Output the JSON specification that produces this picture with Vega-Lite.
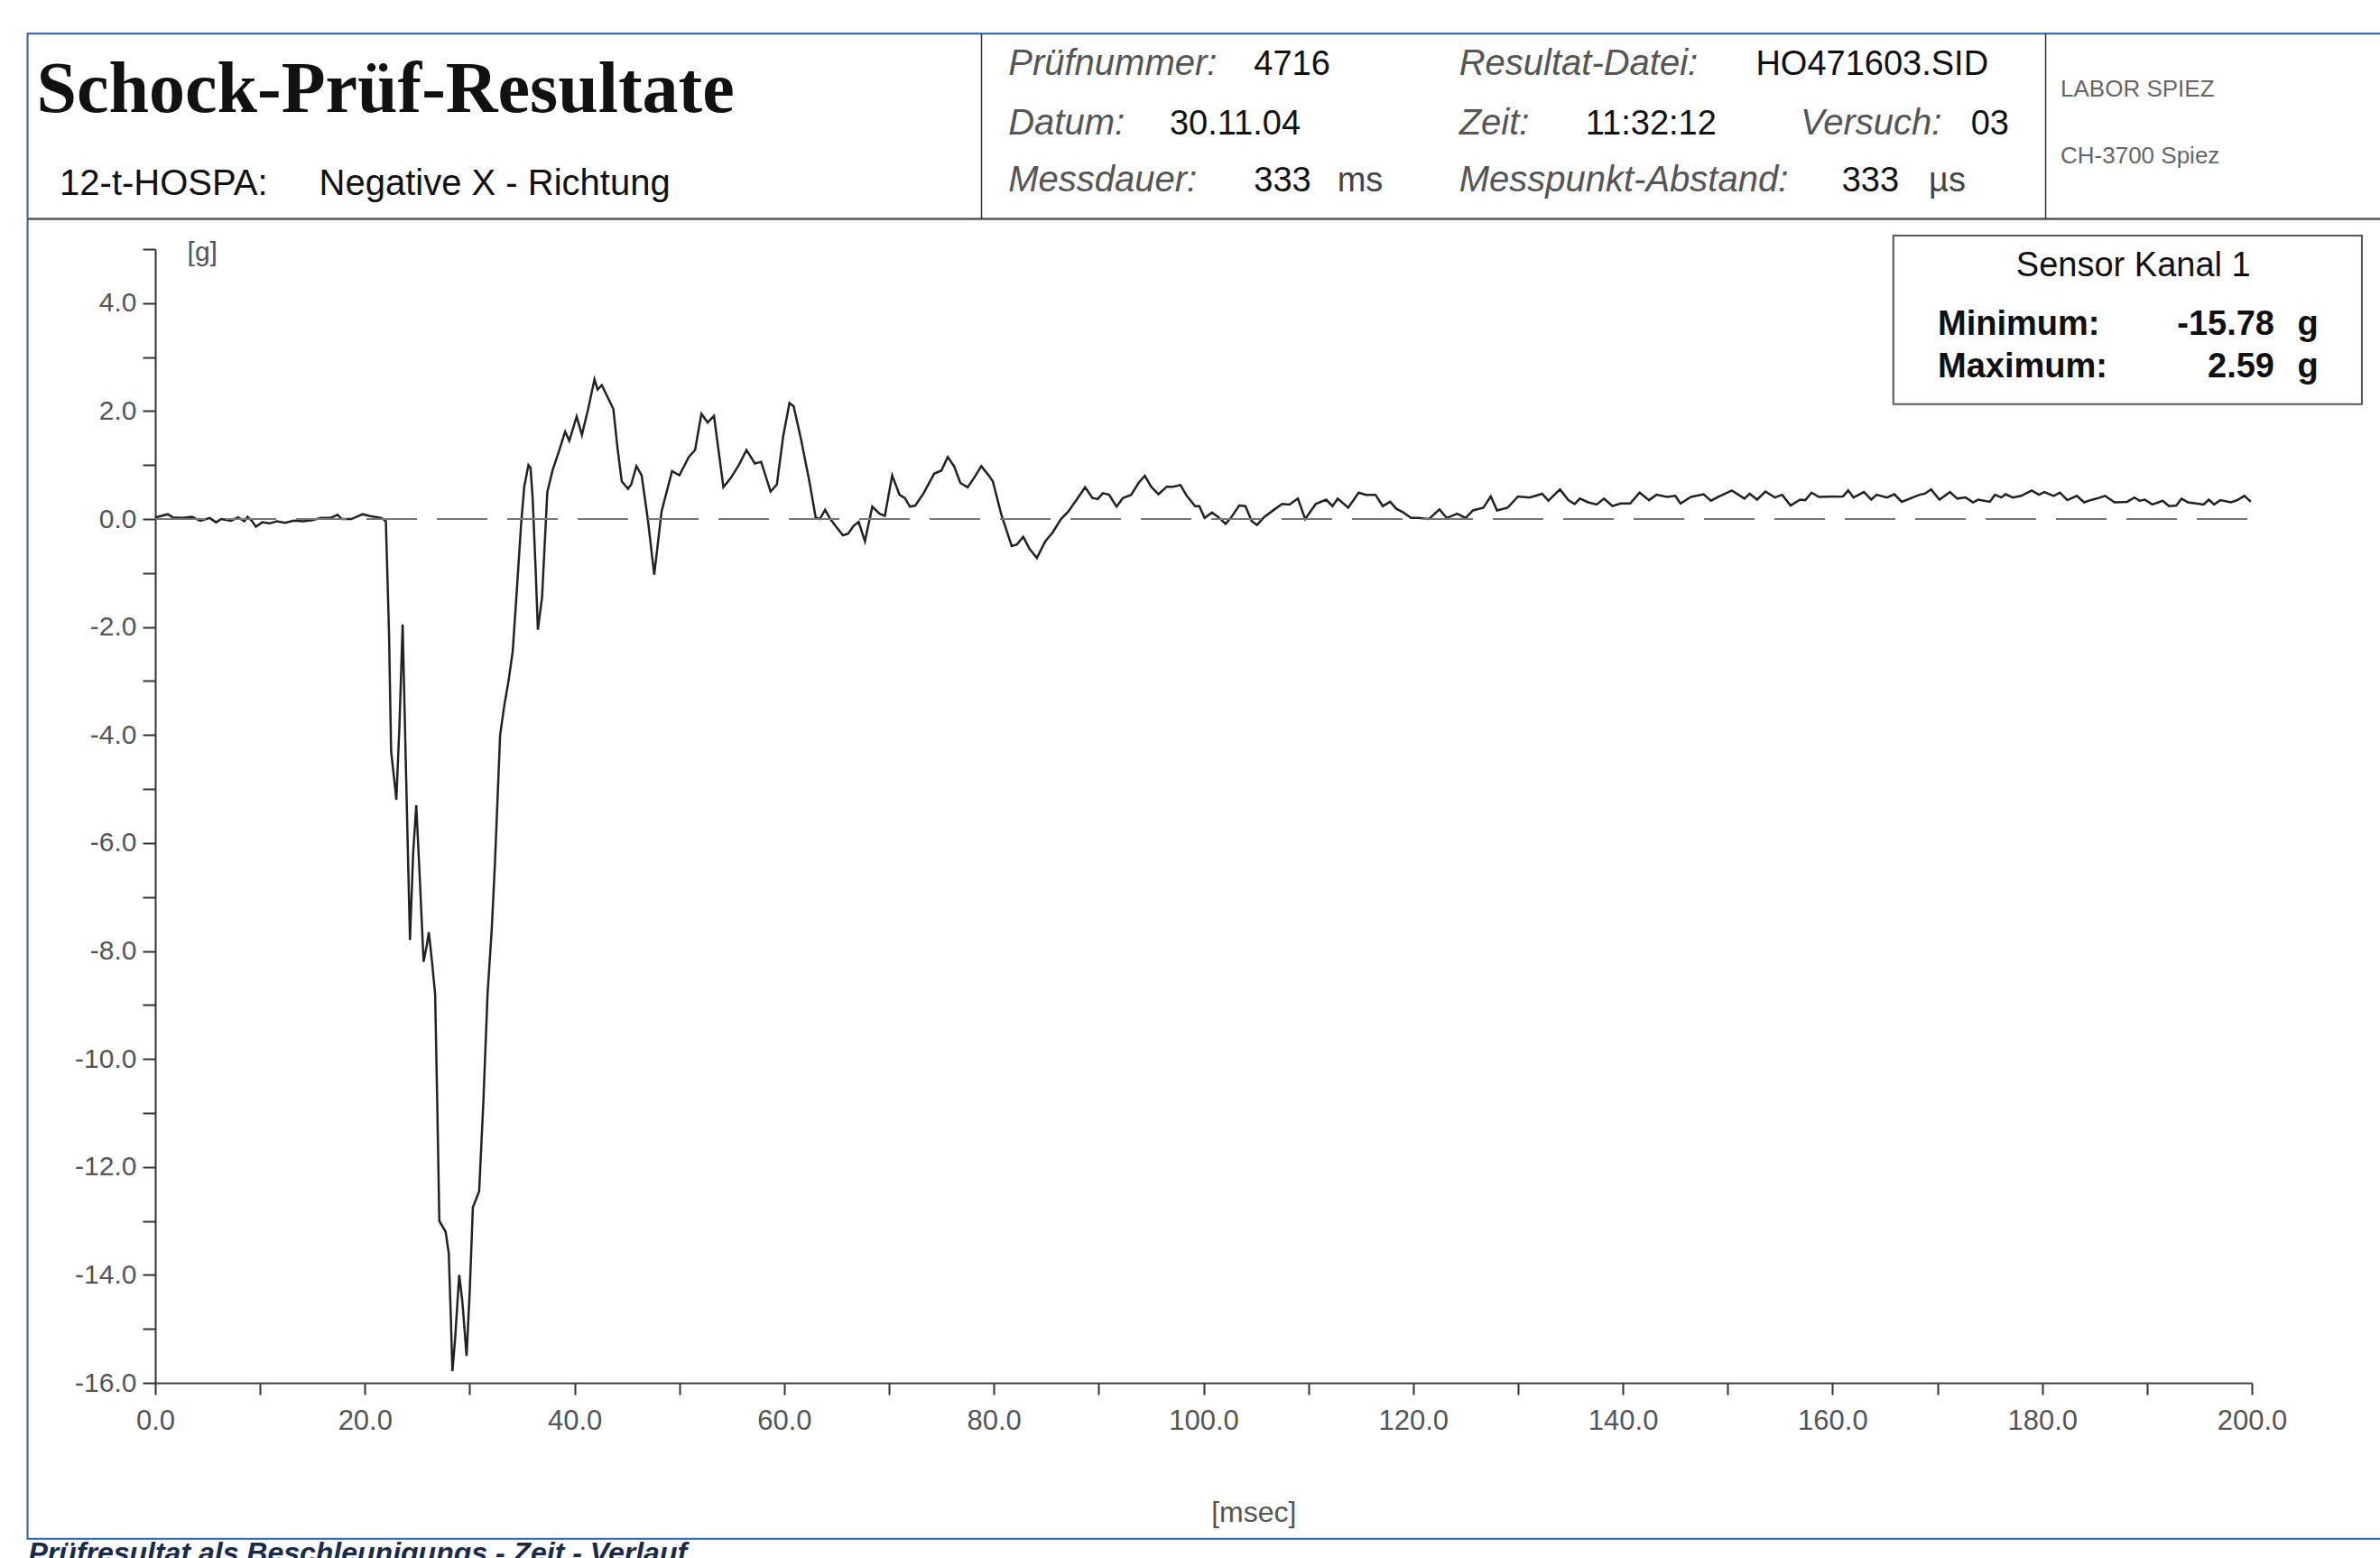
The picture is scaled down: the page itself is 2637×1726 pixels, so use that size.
{
  "$schema": "https://vega.github.io/schema/vega-lite/v6.json",
  "autosize": "none",
  "width": 2323,
  "height": 1256,
  "padding": {"left": 172, "top": 276, "right": 142, "bottom": 194},
  "background": "white",
  "config": {"view": {"stroke": null}, "font": "Liberation Sans"},
  "layer": [
    {
      "data": {"values": [
        {"t": 0, "g": 0.03}, {"t": 1.2, "g": 0.09}, {"t": 1.7, "g": 0.03}, {"t": 2.6, "g": 0.02}, {"t": 3.5, "g": 0.04},
        {"t": 4.3, "g": -0.03}, {"t": 5.2, "g": 0.02}, {"t": 5.8, "g": -0.06}, {"t": 6.3, "g": 0.0}, {"t": 7.2, "g": -0.03},
        {"t": 7.9, "g": 0.03}, {"t": 8.5, "g": -0.04}, {"t": 8.8, "g": 0.04}, {"t": 9.2, "g": -0.03}, {"t": 9.6, "g": -0.14},
        {"t": 10.2, "g": -0.06}, {"t": 10.9, "g": -0.08}, {"t": 11.6, "g": -0.04}, {"t": 12.4, "g": -0.07}, {"t": 13.2, "g": -0.03},
        {"t": 14.1, "g": -0.04}, {"t": 15.0, "g": -0.02}, {"t": 15.8, "g": 0.02}, {"t": 16.7, "g": 0.02}, {"t": 17.4, "g": 0.08},
        {"t": 17.8, "g": 0.0}, {"t": 18.7, "g": 0.0}, {"t": 19.8, "g": 0.09}, {"t": 20.4, "g": 0.06}, {"t": 21.0, "g": 0.04},
        {"t": 21.6, "g": 0.02}, {"t": 22.0, "g": -0.04},
        {"t": 22.3, "g": -2.1}, {"t": 22.5, "g": -4.3}, {"t": 22.9, "g": -5.0}, {"t": 23.0, "g": -5.2}, {"t": 23.3, "g": -3.8},
        {"t": 23.6, "g": -1.95}, {"t": 23.9, "g": -4.5}, {"t": 24.3, "g": -7.8}, {"t": 24.6, "g": -6.2}, {"t": 24.9, "g": -5.3},
        {"t": 25.2, "g": -6.5}, {"t": 25.6, "g": -8.2}, {"t": 25.9, "g": -7.9}, {"t": 26.1, "g": -7.65}, {"t": 26.4, "g": -8.2},
        {"t": 26.7, "g": -8.8}, {"t": 26.9, "g": -10.8}, {"t": 27.1, "g": -13.0}, {"t": 27.7, "g": -13.2}, {"t": 28.0, "g": -13.6},
        {"t": 28.2, "g": -14.8}, {"t": 28.35, "g": -15.78}, {"t": 28.6, "g": -15.2}, {"t": 29.0, "g": -14.0}, {"t": 29.3, "g": -14.5},
        {"t": 29.7, "g": -15.5}, {"t": 30.0, "g": -14.3}, {"t": 30.3, "g": -12.75}, {"t": 30.9, "g": -12.45}, {"t": 31.3, "g": -10.8},
        {"t": 31.7, "g": -8.8}, {"t": 32.1, "g": -7.6}, {"t": 32.4, "g": -6.4}, {"t": 32.9, "g": -4.0}, {"t": 33.3, "g": -3.45},
        {"t": 33.7, "g": -3.0}, {"t": 34.1, "g": -2.45}, {"t": 34.5, "g": -1.3}, {"t": 34.9, "g": -0.1}, {"t": 35.2, "g": 0.6},
        {"t": 35.6, "g": 1.0}, {"t": 35.8, "g": 0.95}, {"t": 36.0, "g": 0.4}, {"t": 36.3, "g": -1.0}, {"t": 36.5, "g": -2.05},
        {"t": 36.9, "g": -1.45}, {"t": 37.4, "g": 0.5}, {"t": 37.9, "g": 0.9}, {"t": 38.5, "g": 1.25}, {"t": 39.1, "g": 1.62},
        {"t": 39.5, "g": 1.45}, {"t": 40.2, "g": 1.9}, {"t": 40.7, "g": 1.56}, {"t": 41.3, "g": 2.04}, {"t": 41.9, "g": 2.59},
        {"t": 42.2, "g": 2.4}, {"t": 42.6, "g": 2.48}, {"t": 43.3, "g": 2.2}, {"t": 43.7, "g": 2.04}, {"t": 44.1, "g": 1.31},
        {"t": 44.5, "g": 0.7}, {"t": 45.1, "g": 0.56}, {"t": 45.4, "g": 0.64}, {"t": 45.9, "g": 0.98}, {"t": 46.4, "g": 0.81},
        {"t": 47.0, "g": -0.02}, {"t": 47.6, "g": -1.03}, {"t": 48.3, "g": 0.14}, {"t": 49.3, "g": 0.89}, {"t": 50.0, "g": 0.81},
        {"t": 50.9, "g": 1.15}, {"t": 51.5, "g": 1.28}, {"t": 52.1, "g": 1.95}, {"t": 52.7, "g": 1.79}, {"t": 53.3, "g": 1.91},
        {"t": 54.2, "g": 0.59}, {"t": 54.9, "g": 0.76}, {"t": 55.7, "g": 1.01}, {"t": 56.4, "g": 1.28}, {"t": 57.2, "g": 1.03},
        {"t": 57.8, "g": 1.06}, {"t": 58.7, "g": 0.51}, {"t": 59.3, "g": 0.64}, {"t": 59.9, "g": 1.53}, {"t": 60.5, "g": 2.15},
        {"t": 60.9, "g": 2.09}, {"t": 61.6, "g": 1.48}, {"t": 62.4, "g": 0.7}, {"t": 63.0, "g": 0.03}, {"t": 63.4, "g": 0.0},
        {"t": 63.9, "g": 0.17}, {"t": 64.4, "g": 0.0}, {"t": 64.9, "g": -0.13}, {"t": 65.6, "g": -0.3}, {"t": 66.1, "g": -0.27},
        {"t": 66.6, "g": -0.13}, {"t": 67.1, "g": -0.05}, {"t": 67.7, "g": -0.41}, {"t": 68.4, "g": 0.23}, {"t": 69.1, "g": 0.1},
        {"t": 69.6, "g": 0.06}, {"t": 70.3, "g": 0.81}, {"t": 71.0, "g": 0.45}, {"t": 71.5, "g": 0.39}, {"t": 72.0, "g": 0.23},
        {"t": 72.5, "g": 0.25}, {"t": 73.3, "g": 0.48}, {"t": 74.3, "g": 0.84}, {"t": 75.0, "g": 0.9}, {"t": 75.6, "g": 1.15},
        {"t": 76.2, "g": 0.98}, {"t": 76.8, "g": 0.67}, {"t": 77.5, "g": 0.59}, {"t": 78.1, "g": 0.76}, {"t": 78.8, "g": 0.98},
        {"t": 79.5, "g": 0.81}, {"t": 79.9, "g": 0.7}, {"t": 80.7, "g": 0.09}, {"t": 81.7, "g": -0.5}, {"t": 82.2, "g": -0.47},
        {"t": 82.8, "g": -0.33}, {"t": 83.4, "g": -0.55}, {"t": 84.1, "g": -0.72}, {"t": 84.9, "g": -0.41}, {"t": 85.6, "g": -0.25},
        {"t": 86.4, "g": 0.0}, {"t": 87.1, "g": 0.14}, {"t": 88.0, "g": 0.39}, {"t": 88.7, "g": 0.59}, {"t": 89.4, "g": 0.39},
        {"t": 89.9, "g": 0.37}, {"t": 90.4, "g": 0.48}, {"t": 91.0, "g": 0.45}, {"t": 91.7, "g": 0.23}, {"t": 92.3, "g": 0.39},
        {"t": 93.1, "g": 0.45}, {"t": 93.8, "g": 0.67}, {"t": 94.4, "g": 0.8}, {"t": 95.0, "g": 0.6}, {"t": 95.7, "g": 0.46},
        {"t": 96.5, "g": 0.6}, {"t": 97.1, "g": 0.6}, {"t": 97.8, "g": 0.63}, {"t": 98.4, "g": 0.43}, {"t": 99.2, "g": 0.24},
        {"t": 99.6, "g": 0.24}, {"t": 100.1, "g": 0.02}, {"t": 100.8, "g": 0.12}, {"t": 101.4, "g": 0.04}, {"t": 102.1, "g": -0.09},
        {"t": 102.6, "g": 0.02}, {"t": 103.4, "g": 0.25}, {"t": 104.0, "g": 0.24}, {"t": 104.6, "g": -0.04}, {"t": 105.1, "g": -0.11},
        {"t": 105.8, "g": 0.04}, {"t": 106.7, "g": 0.17}, {"t": 107.5, "g": 0.28}, {"t": 108.2, "g": 0.27}, {"t": 109.0, "g": 0.38},
        {"t": 109.7, "g": 0.0}, {"t": 110.7, "g": 0.28}, {"t": 111.7, "g": 0.36}, {"t": 112.3, "g": 0.24}, {"t": 112.8, "g": 0.38},
        {"t": 113.8, "g": 0.21}, {"t": 114.8, "g": 0.49}, {"t": 115.5, "g": 0.45}, {"t": 116.4, "g": 0.45}, {"t": 117.1, "g": 0.24},
        {"t": 117.8, "g": 0.32}, {"t": 118.4, "g": 0.19}, {"t": 119.0, "g": 0.13}, {"t": 119.8, "g": 0.02}, {"t": 120.5, "g": 0.02},
        {"t": 121.5, "g": 0.0}, {"t": 122.5, "g": 0.18}, {"t": 123.2, "g": 0.02}, {"t": 124.2, "g": 0.1}, {"t": 125.0, "g": 0.02},
        {"t": 125.7, "g": 0.16}, {"t": 126.7, "g": 0.21}, {"t": 127.4, "g": 0.42}, {"t": 128.0, "g": 0.16}, {"t": 129.0, "g": 0.21},
        {"t": 130.0, "g": 0.42}, {"t": 131.1, "g": 0.4}, {"t": 132.3, "g": 0.47}, {"t": 132.9, "g": 0.34}, {"t": 134.0, "g": 0.55},
        {"t": 134.8, "g": 0.35}, {"t": 135.4, "g": 0.28}, {"t": 135.9, "g": 0.38}, {"t": 136.7, "g": 0.31}, {"t": 137.5, "g": 0.27},
        {"t": 138.2, "g": 0.38}, {"t": 139.0, "g": 0.24}, {"t": 139.8, "g": 0.29}, {"t": 140.7, "g": 0.29}, {"t": 141.6, "g": 0.49},
        {"t": 142.5, "g": 0.35}, {"t": 143.2, "g": 0.45}, {"t": 144.2, "g": 0.41}, {"t": 145.0, "g": 0.43}, {"t": 145.5, "g": 0.29},
        {"t": 146.5, "g": 0.41}, {"t": 147.7, "g": 0.46}, {"t": 148.4, "g": 0.34}, {"t": 149.2, "g": 0.42}, {"t": 150.4, "g": 0.53},
        {"t": 151.6, "g": 0.38}, {"t": 152.1, "g": 0.47}, {"t": 152.8, "g": 0.36}, {"t": 153.6, "g": 0.51}, {"t": 154.5, "g": 0.4},
        {"t": 155.2, "g": 0.45}, {"t": 156.0, "g": 0.25}, {"t": 156.9, "g": 0.36}, {"t": 157.4, "g": 0.35}, {"t": 158.0, "g": 0.49},
        {"t": 158.7, "g": 0.41}, {"t": 161.0, "g": 0.42}, {"t": 161.5, "g": 0.53}, {"t": 162.0, "g": 0.4}, {"t": 163.0, "g": 0.5},
        {"t": 163.7, "g": 0.36}, {"t": 164.2, "g": 0.45}, {"t": 165.2, "g": 0.4}, {"t": 165.9, "g": 0.46}, {"t": 166.6, "g": 0.32},
        {"t": 168.3, "g": 0.45}, {"t": 168.8, "g": 0.47}, {"t": 169.4, "g": 0.55}, {"t": 170.2, "g": 0.36}, {"t": 171.2, "g": 0.5},
        {"t": 171.9, "g": 0.38}, {"t": 172.7, "g": 0.4}, {"t": 173.4, "g": 0.31}, {"t": 173.9, "g": 0.36}, {"t": 175.0, "g": 0.32},
        {"t": 175.5, "g": 0.45}, {"t": 176.1, "g": 0.4}, {"t": 176.5, "g": 0.46}, {"t": 177.2, "g": 0.4}, {"t": 178.0, "g": 0.43},
        {"t": 179.0, "g": 0.53}, {"t": 179.7, "g": 0.45}, {"t": 180.2, "g": 0.5}, {"t": 181.1, "g": 0.43}, {"t": 181.7, "g": 0.49},
        {"t": 182.4, "g": 0.35}, {"t": 183.3, "g": 0.43}, {"t": 184.0, "g": 0.31}, {"t": 184.6, "g": 0.35}, {"t": 185.2, "g": 0.38},
        {"t": 186.0, "g": 0.43}, {"t": 186.9, "g": 0.31}, {"t": 188.1, "g": 0.32}, {"t": 188.8, "g": 0.4}, {"t": 189.3, "g": 0.34},
        {"t": 189.8, "g": 0.36}, {"t": 190.5, "g": 0.27}, {"t": 191.5, "g": 0.34}, {"t": 192.1, "g": 0.24}, {"t": 192.8, "g": 0.25},
        {"t": 193.3, "g": 0.38}, {"t": 193.9, "g": 0.31}, {"t": 194.7, "g": 0.29}, {"t": 195.4, "g": 0.27}, {"t": 195.9, "g": 0.36},
        {"t": 196.4, "g": 0.27}, {"t": 197.0, "g": 0.35}, {"t": 198.0, "g": 0.31}, {"t": 198.6, "g": 0.35}, {"t": 199.3, "g": 0.43},
        {"t": 199.9, "g": 0.32}
      ]},
      "mark": {"type": "line", "stroke": "#222222", "strokeWidth": 2.5},
      "encoding": {
        "x": {
          "field": "t", "type": "quantitative",
          "scale": {"domain": [0, 200], "nice": false, "zero": false},
          "axis": {
            "title": null, "grid": false,
            "values": [0, 10, 20, 30, 40, 50, 60, 70, 80, 90, 100, 110, 120, 130, 140, 150, 160, 170, 180, 190, 200],
            "labelExpr": "datum.value % 20 === 0 ? format(datum.value, '.1f') : ''",
            "labelFont": "Liberation Sans", "labelFontSize": 31, "labelColor": "#555555",
            "labelPadding": 14, "labelFlush": false, "labelOverlap": false, "labelBound": false,
            "tickSize": 13, "tickWidth": 2, "tickColor": "#333333",
            "domainColor": "#444444", "domainWidth": 2
          }
        },
        "y": {
          "field": "g", "type": "quantitative",
          "scale": {"domain": [-16, 5], "nice": false, "zero": false},
          "axis": {
            "title": null, "grid": false,
            "values": [-16, -15, -14, -13, -12, -11, -10, -9, -8, -7, -6, -5, -4, -3, -2, -1, 0, 1, 2, 3, 4, 5],
            "labelExpr": "(datum.value % 2 === 0 && datum.value < 5) ? replace(format(datum.value, '.1f'), '\u2212', '-') : ''",
            "labelFont": "Liberation Sans", "labelFontSize": 30, "labelColor": "#555555",
            "labelPadding": 7, "labelFlush": false, "labelOverlap": false, "labelBound": false,
            "tickSize": 14, "tickWidth": 2, "tickColor": "#333333",
            "domainColor": "#333333", "domainWidth": 2
          }
        }
      }
    },
    {
      "data": {"values": [{}]},
      "mark": {"type": "rect", "filled": false, "stroke": "#2f5f9a", "strokeWidth": 2, "clip": false},
      "encoding": {
        "x": {"datum": -12.18, "type": "quantitative"},
        "x2": {"datum": 230},
        "y": {"datum": 8.99, "type": "quantitative"},
        "y2": {"datum": -18.89}
      }
    },
    {
      "data": {"values": [{}]},
      "mark": {"type": "rule", "stroke": "#555555", "strokeWidth": 2.5, "clip": false},
      "encoding": {
        "x": {"datum": -12.18, "type": "quantitative"},
        "x2": {"datum": 230},
        "y": {"datum": 5.56, "type": "quantitative"}
      }
    },
    {
      "data": {"values": [{}]},
      "mark": {"type": "rule", "stroke": "#333333", "strokeWidth": 1.5, "clip": false},
      "encoding": {
        "x": {"datum": 78.82, "type": "quantitative"},
        "y": {"datum": 8.99, "type": "quantitative"},
        "y2": {"datum": 5.56}
      }
    },
    {
      "data": {"values": [{}]},
      "mark": {"type": "rule", "stroke": "#333333", "strokeWidth": 1.5, "clip": false},
      "encoding": {
        "x": {"datum": 180.33, "type": "quantitative"},
        "y": {"datum": 8.99, "type": "quantitative"},
        "y2": {"datum": 5.56}
      }
    },
    {
      "data": {"values": [{}]},
      "mark": {"type": "rule", "stroke": "#777777", "strokeWidth": 2, "strokeDash": [56, 22], "clip": false},
      "encoding": {
        "x": {"datum": 0, "type": "quantitative"},
        "x2": {"datum": 200},
        "y": {"datum": 0, "type": "quantitative"}
      }
    },
    {
      "data": {"values": [{}]},
      "mark": {"type": "rect", "filled": false, "stroke": "#555555", "strokeWidth": 2, "clip": false},
      "encoding": {
        "x": {"datum": 165.8, "type": "quantitative"},
        "x2": {"datum": 210.5},
        "y": {"datum": 5.25, "type": "quantitative"},
        "y2": {"datum": 2.13}
      }
    },
    {
      "data": {"values": [{}]},
      "mark": {"type": "text", "text": "Schock-Prüf-Resultate", "font": "Liberation Serif", "fontWeight": "bold", "fontSize": 80, "align": "left", "baseline": "alphabetic", "color": "#111111", "clip": false},
      "encoding": {"x": {"datum": -11.32, "type": "quantitative"}, "y": {"datum": 7.54, "type": "quantitative"}}
    },
    {
      "data": {"values": [{}]},
      "mark": {"type": "text", "text": "12-t-HOSPA:", "fontSize": 40, "align": "left", "baseline": "alphabetic", "color": "#111111", "clip": false},
      "encoding": {"x": {"datum": -9.12, "type": "quantitative"}, "y": {"datum": 6.01, "type": "quantitative"}}
    },
    {
      "data": {"values": [{}]},
      "mark": {"type": "text", "text": "Negative X - Richtung", "fontSize": 40, "align": "left", "baseline": "alphabetic", "color": "#111111", "clip": false},
      "encoding": {"x": {"datum": 15.63, "type": "quantitative"}, "y": {"datum": 6.01, "type": "quantitative"}}
    },
    {
      "data": {"values": [{}]},
      "mark": {"type": "text", "text": "Prüfnummer:", "fontSize": 40, "fontStyle": "italic", "align": "left", "baseline": "alphabetic", "color": "#555555", "clip": false},
      "encoding": {"x": {"datum": 81.38, "type": "quantitative"}, "y": {"datum": 8.22, "type": "quantitative"}}
    },
    {
      "data": {"values": [{}]},
      "mark": {"type": "text", "text": "4716", "fontSize": 38, "align": "left", "baseline": "alphabetic", "color": "#111111", "clip": false},
      "encoding": {"x": {"datum": 104.8, "type": "quantitative"}, "y": {"datum": 8.22, "type": "quantitative"}}
    },
    {
      "data": {"values": [{}]},
      "mark": {"type": "text", "text": "Resultat-Datei:", "fontSize": 40, "fontStyle": "italic", "align": "left", "baseline": "alphabetic", "color": "#555555", "clip": false},
      "encoding": {"x": {"datum": 124.38, "type": "quantitative"}, "y": {"datum": 8.22, "type": "quantitative"}}
    },
    {
      "data": {"values": [{}]},
      "mark": {"type": "text", "text": "HO471603.SID", "fontSize": 38, "align": "left", "baseline": "alphabetic", "color": "#111111", "clip": false},
      "encoding": {"x": {"datum": 152.68, "type": "quantitative"}, "y": {"datum": 8.22, "type": "quantitative"}}
    },
    {
      "data": {"values": [{}]},
      "mark": {"type": "text", "text": "Datum:", "fontSize": 40, "fontStyle": "italic", "align": "left", "baseline": "alphabetic", "color": "#555555", "clip": false},
      "encoding": {"x": {"datum": 81.38, "type": "quantitative"}, "y": {"datum": 7.12, "type": "quantitative"}}
    },
    {
      "data": {"values": [{}]},
      "mark": {"type": "text", "text": "30.11.04", "fontSize": 38, "align": "left", "baseline": "alphabetic", "color": "#111111", "clip": false},
      "encoding": {"x": {"datum": 96.77, "type": "quantitative"}, "y": {"datum": 7.12, "type": "quantitative"}}
    },
    {
      "data": {"values": [{}]},
      "mark": {"type": "text", "text": "Zeit:", "fontSize": 40, "fontStyle": "italic", "align": "left", "baseline": "alphabetic", "color": "#555555", "clip": false},
      "encoding": {"x": {"datum": 124.38, "type": "quantitative"}, "y": {"datum": 7.12, "type": "quantitative"}}
    },
    {
      "data": {"values": [{}]},
      "mark": {"type": "text", "text": "11:32:12", "fontSize": 38, "align": "left", "baseline": "alphabetic", "color": "#111111", "clip": false},
      "encoding": {"x": {"datum": 136.44, "type": "quantitative"}, "y": {"datum": 7.12, "type": "quantitative"}}
    },
    {
      "data": {"values": [{}]},
      "mark": {"type": "text", "text": "Versuch:", "fontSize": 40, "fontStyle": "italic", "align": "left", "baseline": "alphabetic", "color": "#555555", "clip": false},
      "encoding": {"x": {"datum": 156.95, "type": "quantitative"}, "y": {"datum": 7.12, "type": "quantitative"}}
    },
    {
      "data": {"values": [{}]},
      "mark": {"type": "text", "text": "03", "fontSize": 38, "align": "left", "baseline": "alphabetic", "color": "#111111", "clip": false},
      "encoding": {"x": {"datum": 173.2, "type": "quantitative"}, "y": {"datum": 7.12, "type": "quantitative"}}
    },
    {
      "data": {"values": [{}]},
      "mark": {"type": "text", "text": "Messdauer:", "fontSize": 40, "fontStyle": "italic", "align": "left", "baseline": "alphabetic", "color": "#555555", "clip": false},
      "encoding": {"x": {"datum": 81.38, "type": "quantitative"}, "y": {"datum": 6.07, "type": "quantitative"}}
    },
    {
      "data": {"values": [{}]},
      "mark": {"type": "text", "text": "333", "fontSize": 38, "align": "left", "baseline": "alphabetic", "color": "#111111", "clip": false},
      "encoding": {"x": {"datum": 104.8, "type": "quantitative"}, "y": {"datum": 6.07, "type": "quantitative"}}
    },
    {
      "data": {"values": [{}]},
      "mark": {"type": "text", "text": "ms", "fontSize": 38, "align": "left", "baseline": "alphabetic", "color": "#444444", "clip": false},
      "encoding": {"x": {"datum": 112.76, "type": "quantitative"}, "y": {"datum": 6.07, "type": "quantitative"}}
    },
    {
      "data": {"values": [{}]},
      "mark": {"type": "text", "text": "Messpunkt-Abstand:", "fontSize": 40, "fontStyle": "italic", "align": "left", "baseline": "alphabetic", "color": "#555555", "clip": false},
      "encoding": {"x": {"datum": 124.38, "type": "quantitative"}, "y": {"datum": 6.07, "type": "quantitative"}}
    },
    {
      "data": {"values": [{}]},
      "mark": {"type": "text", "text": "333", "fontSize": 38, "align": "left", "baseline": "alphabetic", "color": "#111111", "clip": false},
      "encoding": {"x": {"datum": 160.89, "type": "quantitative"}, "y": {"datum": 6.07, "type": "quantitative"}}
    },
    {
      "data": {"values": [{}]},
      "mark": {"type": "text", "text": "µs", "fontSize": 38, "align": "left", "baseline": "alphabetic", "color": "#444444", "clip": false},
      "encoding": {"x": {"datum": 169.18, "type": "quantitative"}, "y": {"datum": 6.07, "type": "quantitative"}}
    },
    {
      "data": {"values": [{}]},
      "mark": {"type": "text", "text": "LABOR SPIEZ", "fontSize": 26, "align": "left", "baseline": "alphabetic", "color": "#666666", "clip": false},
      "encoding": {"x": {"datum": 181.75, "type": "quantitative"}, "y": {"datum": 7.83, "type": "quantitative"}}
    },
    {
      "data": {"values": [{}]},
      "mark": {"type": "text", "text": "CH-3700 Spiez", "fontSize": 26, "align": "left", "baseline": "alphabetic", "color": "#666666", "clip": false},
      "encoding": {"x": {"datum": 181.75, "type": "quantitative"}, "y": {"datum": 6.59, "type": "quantitative"}}
    },
    {
      "data": {"values": [{}]},
      "mark": {"type": "text", "text": "Sensor Kanal 1", "fontSize": 38, "align": "center", "baseline": "alphabetic", "color": "#111111", "clip": false},
      "encoding": {"x": {"datum": 188.7, "type": "quantitative"}, "y": {"datum": 4.5, "type": "quantitative"}}
    },
    {
      "data": {"values": [{}]},
      "mark": {"type": "text", "text": "Minimum:", "fontSize": 38, "fontWeight": "bold", "align": "left", "baseline": "alphabetic", "color": "#111111", "clip": false},
      "encoding": {"x": {"datum": 170.04, "type": "quantitative"}, "y": {"datum": 3.41, "type": "quantitative"}}
    },
    {
      "data": {"values": [{}]},
      "mark": {"type": "text", "text": "-15.78", "fontSize": 38, "fontWeight": "bold", "align": "right", "baseline": "alphabetic", "color": "#111111", "clip": false},
      "encoding": {"x": {"datum": 202.15, "type": "quantitative"}, "y": {"datum": 3.41, "type": "quantitative"}}
    },
    {
      "data": {"values": [{}]},
      "mark": {"type": "text", "text": "g", "fontSize": 38, "fontWeight": "bold", "align": "left", "baseline": "alphabetic", "color": "#111111", "clip": false},
      "encoding": {"x": {"datum": 204.35, "type": "quantitative"}, "y": {"datum": 3.41, "type": "quantitative"}}
    },
    {
      "data": {"values": [{}]},
      "mark": {"type": "text", "text": "Maximum:", "fontSize": 38, "fontWeight": "bold", "align": "left", "baseline": "alphabetic", "color": "#111111", "clip": false},
      "encoding": {"x": {"datum": 170.04, "type": "quantitative"}, "y": {"datum": 2.63, "type": "quantitative"}}
    },
    {
      "data": {"values": [{}]},
      "mark": {"type": "text", "text": "2.59", "fontSize": 38, "fontWeight": "bold", "align": "right", "baseline": "alphabetic", "color": "#111111", "clip": false},
      "encoding": {"x": {"datum": 202.15, "type": "quantitative"}, "y": {"datum": 2.63, "type": "quantitative"}}
    },
    {
      "data": {"values": [{}]},
      "mark": {"type": "text", "text": "g", "fontSize": 38, "fontWeight": "bold", "align": "left", "baseline": "alphabetic", "color": "#111111", "clip": false},
      "encoding": {"x": {"datum": 204.35, "type": "quantitative"}, "y": {"datum": 2.63, "type": "quantitative"}}
    },
    {
      "data": {"values": [{}]},
      "mark": {"type": "text", "text": "[g]", "fontSize": 30, "align": "left", "baseline": "middle", "color": "#555555", "clip": false},
      "encoding": {"x": {"datum": 3.06, "type": "quantitative"}, "y": {"datum": 4.94, "type": "quantitative"}}
    },
    {
      "data": {"values": [{}]},
      "mark": {"type": "text", "text": "[msec]", "fontSize": 32, "align": "center", "baseline": "middle", "color": "#555555", "clip": false},
      "encoding": {"x": {"datum": 104.8, "type": "quantitative"}, "y": {"datum": -18.4, "type": "quantitative"}}
    },
    {
      "data": {"values": [{}]},
      "mark": {"type": "text", "text": "Prüfresultat als Beschleunigungs - Zeit - Verlauf", "fontSize": 32, "fontWeight": "bold", "fontStyle": "italic", "align": "left", "baseline": "alphabetic", "color": "#1b2a4a", "clip": false},
      "encoding": {"x": {"datum": -12.1, "type": "quantitative"}, "y": {"datum": -19.32, "type": "quantitative"}}
    }
  ]
}
